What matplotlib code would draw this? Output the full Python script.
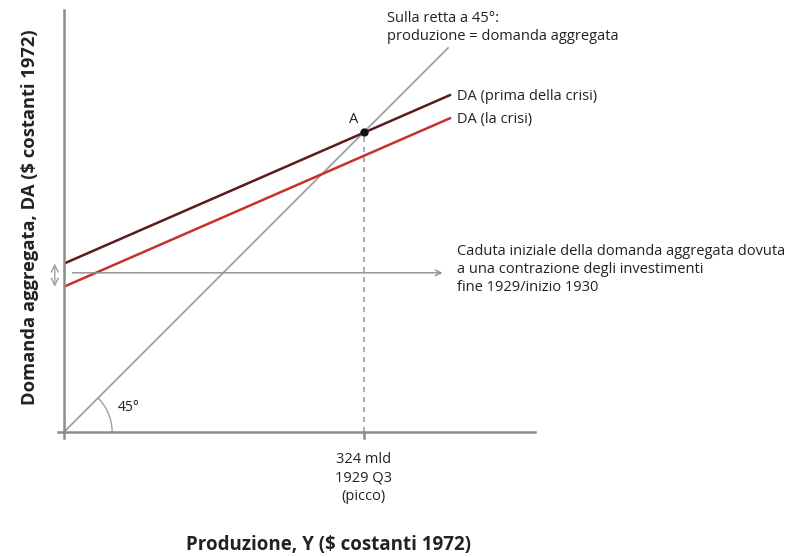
import numpy as np
import matplotlib
matplotlib.use("Agg")
import matplotlib.pyplot as plt
from matplotlib.patches import Arc

plt.rcParams['font.family'] = ['Open Sans', 'DejaVu Sans']

# dati (unità arbitrarie, 324 = picco 1929 Q3)
peak_output = 324
line45_x = [0, 415]
da_x = [0, 417]
da_before_y = [182, 364]
da_crisis_y = [157, 339]
shift_y = 172
shift_x = [6, 412]
tick_text = "324 mld\n1929 Q3\n(picco)"

GRAY = '#8c8c8c'
DARK = '#5c1a1b'
RED = '#c8302c'

fig = plt.figure(figsize=(8.1, 5.57), dpi=100)
ax = fig.add_axes([64 / 810, 125 / 557, 471 / 810, 422 / 557])
ax.set_xlim(0, 509)
ax.set_ylim(0, 456)

for s in ['top', 'right']:
    ax.spines[s].set_visible(False)
for s in ['left', 'bottom']:
    ax.spines[s].set_color(GRAY)
    ax.spines[s].set_linewidth(1.8)
ax.set_xticks([])
ax.set_yticks([])

# piccola croce all'origine e tick sul picco
ax.plot([-6, 0], [0, 0], color=GRAY, lw=1.8, clip_on=False)
ax.plot([0, 0], [-6, 0], color=GRAY, lw=1.8, clip_on=False)
ax.plot([peak_output, peak_output], [-6, 0], color=GRAY, lw=1.8, clip_on=False)

# retta a 45°
ax.plot(line45_x, line45_x, color='#a0a0a0', lw=1.3)
ax.add_patch(Arc((0, 0), 104, 104, theta1=0, theta2=45, color='#a0a0a0', lw=1.0))
ax.text(58, 26, "45°", fontsize=10, color='#222222', va='center')

# curve DA
ax.plot(da_x, da_before_y, color=DARK, lw=1.8)
ax.plot(da_x, da_crisis_y, color=RED, lw=1.8)

# punto A
ax.plot([peak_output, peak_output], [0, peak_output], color='#a0a0a0', lw=1.2,
        linestyle=(0, (3, 3)))
ax.plot(peak_output, peak_output, 'o', color='#111111', ms=5, zorder=5)
ax.text(peak_output - 6, peak_output + 6, "A", fontsize=10.5, ha='right', va='bottom',
        color='#222222')

# frecce
ax.annotate("", xy=(shift_x[1], shift_y), xytext=(shift_x[0], shift_y),
            arrowprops=dict(arrowstyle='->', color=GRAY, lw=1.0))
ax.annotate("", xy=(-10, da_crisis_y[0]), xytext=(-10, da_before_y[0]),
            arrowprops=dict(arrowstyle='<->,head_length=0.5,head_width=0.25',
                            color='#a0a0a0', lw=1.0, shrinkA=0, shrinkB=0),
            annotation_clip=False)

# testi
ax.text(425, da_before_y[1] - 1, "DA (prima della crisi)", fontsize=10.5,
        va='center', color='#222222')
ax.text(425, da_crisis_y[1] - 1, "DA (la crisi)", fontsize=10.5,
        va='center', color='#222222')
ax.text(349, 455, "Sulla retta a 45°:\nproduzione = domanda aggregata", fontsize=10.5,
        va='top', color='#222222', linespacing=1.25, clip_on=False)
ax.text(425, 203, "Caduta iniziale della domanda aggregata dovuta\n"
        "a una contrazione degli investimenti\nfine 1929/inizio 1930",
        fontsize=10.5, va='top', color='#222222', linespacing=1.25, clip_on=False)
ax.text(peak_output, -22, tick_text, fontsize=10.5, ha='center', va='top',
        color='#222222', linespacing=1.3, clip_on=False)

fig.text(328 / 810, 1 - 545 / 557, "Produzione, Y ($ costanti 1972)", fontsize=13.5,
         fontweight='bold', ha='center', va='center', color='#222222')
fig.text(30 / 810, 1 - 217 / 557, "Domanda aggregata, DA ($ costanti 1972)", fontsize=13.2,
         fontweight='bold', ha='center', va='center', rotation=90, color='#222222')

fig.savefig("out.png", dpi=100)
